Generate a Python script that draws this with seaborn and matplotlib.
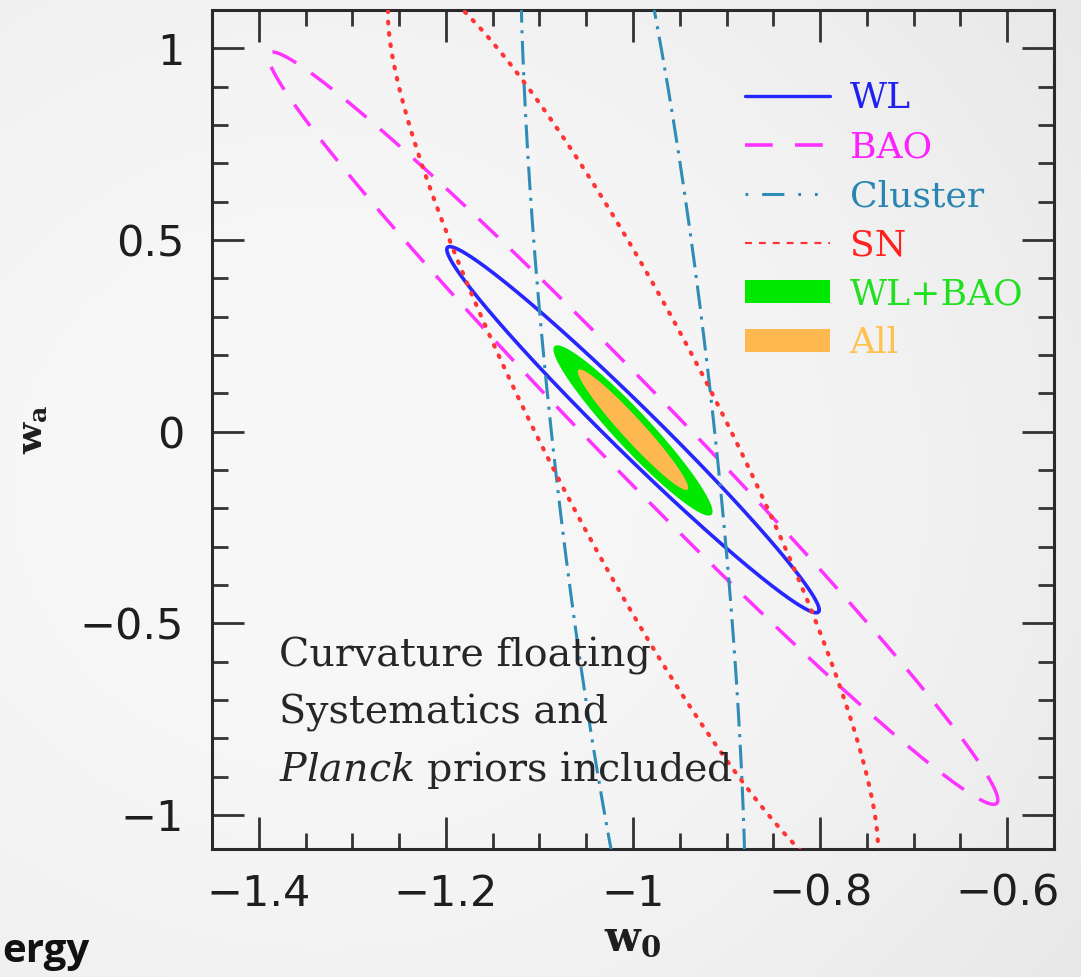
import numpy as np
import pandas as pd
import matplotlib
matplotlib.use("Agg")
import matplotlib.pyplot as plt
import seaborn as sns
from matplotlib.lines import Line2D
from matplotlib.patches import Patch
from matplotlib.ticker import MultipleLocator

# Dark-energy forecast contours in the (w0, wa) plane.
# Each contour is an ellipse: centre + cos(t) * tip + sin(t) * cross.
contour_names = ["WL", "BAO", "Cluster", "SN", "WL+BAO", "All"]
center_w0 = [-1.0, -1.0, -1.0, -1.0, -1.0, -1.0]
center_wa = [0.005, 0.009, 0.0, 0.0, 0.003, 0.005]
tip_w0 = [0.199, 0.39, 0.083, 0.24, 0.085, 0.059]
tip_wa = [-0.47, -0.97, -1.89, -1.19, -0.2115, -0.1515]
cross_w0 = [0.0, 0.0, 0.0873, 0.105, 0.0, 0.0]
cross_wa = [0.085, 0.15, 0.0, 0.0, 0.068, 0.042]

line_colors = ["#2626ff", "#ff33ff", "#2f8cb6", "#ff3535"]
fill_colors = ["#00e800", "#fdb94f"]
label_colors = ["#2020f0", "#ff20ff", "#2a86b0", "#ff2020", "#20e020", "#ffc04d"]

x_ticks = [-1.4, -1.2, -1.0, -0.8, -0.6]
y_ticks = [-1.0, -0.5, 0.0, 0.5, 1.0]
note_lines = ["Curvature floating", "Systematics and",
              r"$\mathit{Planck}$ priors included"]

sns.set_theme(style="ticks")
plt.rcParams["font.family"] = ["DejaVu Sans"]
plt.rcParams["mathtext.fontset"] = "dejavuserif"
plt.rcParams["lines.scale_dashes"] = False

W, H = 1081, 977
fig = plt.figure(figsize=(W / 100, H / 100), dpi=100)

# soft grey backdrop
bg = fig.add_axes([0, 0, 1, 1], zorder=-10)
gx, gy = np.meshgrid(np.linspace(0, 1, 300), np.linspace(1, 0, 300))
shade = 0.972 - 0.085 * ((gx - 0.3) ** 2 + (gy - 0.5) ** 2)
bg.imshow(np.dstack([shade] * 3), extent=[0, 1, 0, 1], aspect="auto")
bg.set_axis_off()

ax = fig.add_axes([212 / W, (H - 849) / H, (1054 - 212) / W, (849 - 10) / H])
ax.set_facecolor("none")

t = np.linspace(0, 2 * np.pi, 721)


def ellipse(i):
    x = center_w0[i] + np.cos(t) * tip_w0[i] + np.sin(t) * cross_w0[i]
    y = center_wa[i] + np.cos(t) * tip_wa[i] + np.sin(t) * cross_wa[i]
    return pd.DataFrame({"w0": x, "wa": y})


# filled combined constraints
for k, i in enumerate([4, 5]):
    df = ellipse(i)
    ax.fill(df["w0"], df["wa"], color=fill_colors[k], lw=0, zorder=2 + k)

styles = [
    "-",
    (0, (19, 13)),
    (0, (17, 5.5, 2.2, 5.5)),
    (0, (1.2, 7.0)),
]
widths = [2.6, 2.5, 2.2, 3.0]
for i in range(4):
    df = ellipse(i)
    sns.lineplot(data=df, x="w0", y="wa", sort=False, estimator=None,
                 color=line_colors[i], lw=widths[i], ax=ax, zorder=4)
    ln = ax.lines[-1]
    ln.set_linestyle(styles[i])
    if i == 3:
        ln.set_dash_capstyle("round")

ax.set_xlim(-1.45, -0.55)
ax.set_ylim(-1.089, 1.1)
ax.set_xticks(x_ticks)
ax.set_yticks(y_ticks)
ax.set_xticklabels(["\u22121.4", "\u22121.2", "\u22121", "\u22120.8", "\u22120.6"])
ax.set_yticklabels(["\u22121", "\u22120.5", "0", "0.5", "1"])
ax.xaxis.set_minor_locator(MultipleLocator(0.05))
ax.yaxis.set_minor_locator(MultipleLocator(0.1))
ax.tick_params(which="both", direction="in", top=True, right=True,
               width=2.0, color="#333333")
ax.tick_params(which="major", length=23, labelsize=31, labelcolor="#1e1e1e")
ax.tick_params(which="minor", length=11.5)
ax.tick_params(axis="x", which="major", pad=17)
ax.tick_params(axis="y", which="major", pad=20)
for s in ax.spines.values():
    s.set_linewidth(2.2)
    s.set_color("#2a2a2a")

ax.set_xlabel(r"$\mathbf{w_0}$", fontsize=30, labelpad=2, color="#1e1e1e")
ax.set_ylabel(r"$\mathbf{w_a}$", fontsize=26, labelpad=22, color="#1e1e1e")

for k, (line, yb) in enumerate(zip(note_lines, [0.217, 0.149, 0.081])):
    ax.text(0.0796, yb, line, transform=ax.transAxes, fontsize=28.5,
            family="DejaVu Serif", color="#262626", va="baseline", ha="left",
            zorder=6)

handles = [
    Line2D([], [], color=line_colors[0], lw=2.4, ls=styles[0]),
    Line2D([], [], color=line_colors[1], lw=2.6, ls=(0, (20, 16))),
    Line2D([], [], color=line_colors[2], lw=2.2, ls=(0, (2, 10, 16, 10, 2, 10))),
    Line2D([], [], color=line_colors[3], lw=1.6, ls=(0, (5, 5))),
    Patch(facecolor=fill_colors[0], edgecolor="none"),
    Patch(facecolor=fill_colors[1], edgecolor="none"),
]
leg = ax.legend(handles, contour_names, loc="upper left",
                bbox_to_anchor=(0.633, 0.915), frameon=False,
                prop={"family": "DejaVu Serif", "size": 26},
                handlelength=2.35, handleheight=0.62, handletextpad=0.55,
                labelspacing=0.415, borderpad=0, borderaxespad=0,
                labelcolor=label_colors)

fig.text(90 / W, (H - 962) / H, "ergy", fontsize=29, fontweight="bold",
         family="Open Sans", color="#111111", ha="right", va="baseline")

fig.savefig("out.png", dpi=100, facecolor=fig.get_facecolor())
